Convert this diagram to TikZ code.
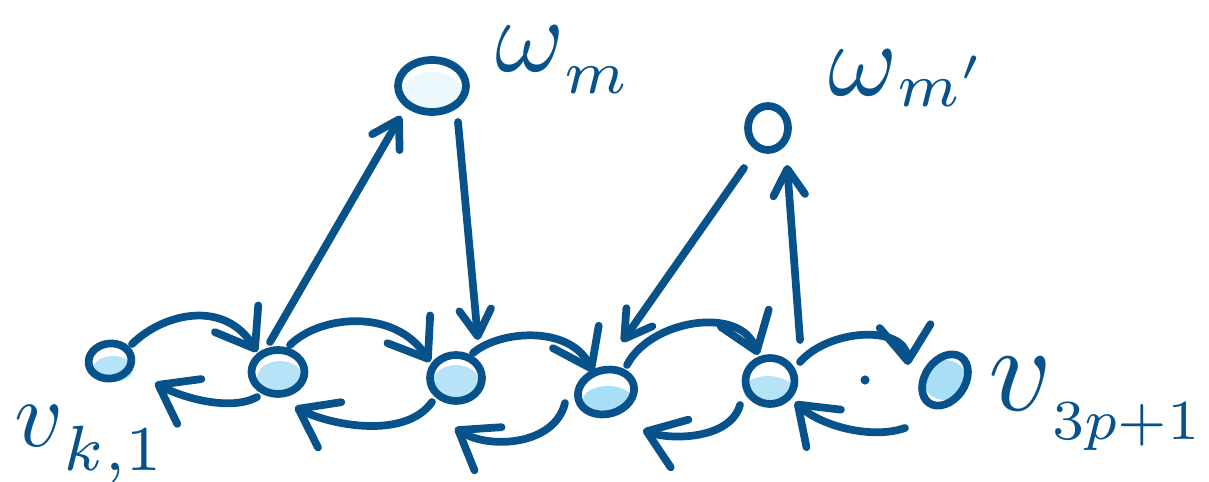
\documentclass[tikz,border=0pt]{standalone}
\usepackage{graphicx}
\usetikzlibrary{arrows.meta,shapes.geometric,calc,backgrounds}
\definecolor{ink}{RGB}{8,82,140}
\definecolor{sky}{RGB}{110,200,240}
\tikzset{
  pen/.style={draw=ink, line width=4.4pt, line cap=round, line join=round},
  vtx/.style={pen, ellipse, inner sep=0pt},
  link/.style={pen, -{Straight Barb[length=15pt,width=18pt,round]}},
  swap/.style={pen, -{Straight Barb[length=20pt,width=29pt,round]}},
  lbl/.style={text=ink, inner sep=0pt, anchor=base west},
}
% light scribbled shading under a vertex: node, offset x, offset y, radii, opacity
\newcommand\hatchspot[6]{%
  \fill[sky, opacity=#6] ($(#1)+(#2,#3)$) ellipse [x radius=#4*0.02cm, y radius=#5*0.02cm];}
% a large letter followed by a lowered subscript
% #1 letter scale, #2 letter, #3 drop of the subscript, #4 subscript scale, #5 subscript
\newcommand\biglabel[5]{\scalebox{#1}{$#2$}\raisebox{-#3}{\scalebox{#4}{$\scriptstyle #5$}}}
\begin{document}
\begin{tikzpicture}[x=0.02cm, y=-0.02cm]
\useasboundingbox (0,0) rectangle (1209,482);

% vertices
\node[vtx, minimum width=0.86cm, minimum height=0.70cm, rotate=8] (v1) at (110,361) {};
\node[vtx, minimum width=1.06cm, minimum height=0.88cm] (v2) at (278,372) {};
\node[vtx, minimum width=1.04cm, minimum height=0.92cm] (v3) at (456,378) {};
\node[vtx, minimum width=1.14cm, minimum height=0.88cm, rotate=15] (v4) at (606,392) {};
\node[vtx, minimum width=0.98cm, minimum height=0.92cm] (v5) at (770,381) {};
\node[vtx, minimum width=1.12cm, minimum height=0.80cm, rotate=55] (v6) at (945,380) {};
\node[vtx, minimum width=1.36cm, minimum height=1.04cm] (wm) at (432,86) {};
\node[vtx, minimum width=0.80cm, minimum height=0.88cm] (wmp) at (768,128) {};

% shading
\begin{scope}[on background layer]
  \hatchspot{v1}{3}{8}{20}{13}{0.5}
  \hatchspot{v2}{2}{6}{23}{17}{0.5}
  \hatchspot{v3}{0}{4}{23}{17}{0.5}
  \hatchspot{v4}{2}{8}{25}{14}{0.6}
  \hatchspot{v5}{-2}{9}{25}{14}{0.5}
  \hatchspot{v6}{0}{0}{22}{20}{0.6}
  \hatchspot{wm}{0}{6}{30}{20}{0.12}
\end{scope}

% labels
\node[lbl] (lwm)  at (495,72)  {\biglabel{6}{\omega}{12pt}{5}{m}};
\node[lbl] (lwmp) at (828,96)  {\biglabel{6}{\omega}{6pt}{5}{m'}};
\node[lbl] (lv1)  at (14,446)  {\biglabel{5.4}{v}{14pt}{5.2}{k,1}};
\node[lbl] (lv6)  at (988,410) {\biglabel{7}{v}{17pt}{4.6}{3p+1}};

% edges to and from the upper vertices
\draw[link] ($(v2)+(-8,-30)$) -- ($(wm)+(-31,30)$);
\draw[link] ($(wm)+(26,36)$) -- ($(v3)+(22,-38)$);
\draw[link] ($(wmp)+(-24,40)$) -- ($(v4)+(16,-50)$);
\draw[link] ($(v5)+(30,-41)$) -- ($(wmp)+(19,37)$);

% swaps along the path
\draw[swap] ($(v1)+(22,-17)$) .. controls (165,312) and (225,300) .. ($(v2)+(-21,-20)$);
\draw[swap] ($(v2)+(-21,25)$) .. controls (230,412) and (181,397) .. ($(v1)+(45,22)$);
\draw[swap] ($(v2)+(12,-27)$) .. controls (320,315) and (395,308) .. ($(v3)+(-26,-16)$);
\draw[swap] ($(v3)+(-24,24)$) .. controls (405,440) and (330,425) .. ($(v2)+(17,35)$);
\draw[swap] ($(v3)+(17,-25)$) .. controls (500,330) and (570,325) .. ($(v4)+(-13,-20)$);
\draw[swap] ($(v4)+(-41,11)$) .. controls (555,445) and (490,450) .. ($(v3)+(-1,50)$);
\draw[swap] ($(v4)+(21,-27)$) .. controls (650,320) and (740,305) .. ($(v5)+(-12,-26)$);
\draw[swap] ($(v5)+(-30,24)$) .. controls (730,440) and (670,440) .. ($(v4)+(37,38)$);
\draw[swap] ($(v5)+(30,-19)$) .. controls (830,328) and (905,325) .. ($(v6)+(-37,-15)$);
\draw[swap] ($(v6)+(-40,48)$) .. controls (870,440) and (820,425) .. ($(v5)+(25,21)$);

\fill[ink] (865,380) circle (2.6pt);
\end{tikzpicture}
\end{document}
